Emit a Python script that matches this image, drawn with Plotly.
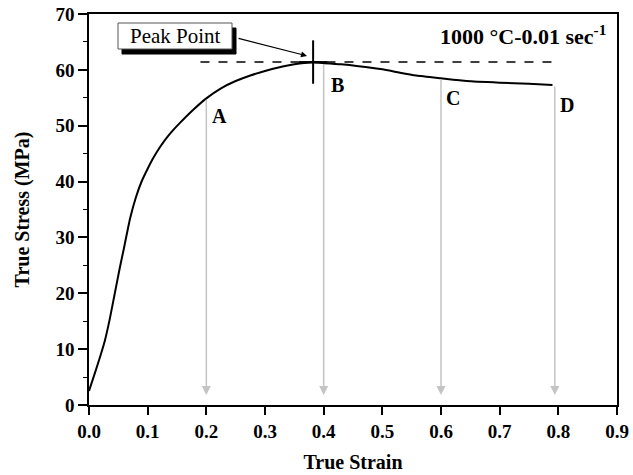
import plotly.graph_objects as go

# Flow curve
strain = [0.0, 0.01, 0.02, 0.027, 0.035, 0.044, 0.052, 0.060, 0.070, 0.080, 0.090,
          0.100, 0.110, 0.120, 0.130, 0.140, 0.155, 0.175, 0.200, 0.225, 0.250,
          0.275, 0.300, 0.330, 0.350, 0.380, 0.400, 0.430, 0.456, 0.500, 0.530,
          0.558, 0.600, 0.644, 0.700, 0.750, 0.790]
stress = [2.5, 5.7, 9.0, 11.5, 15.2, 20.0, 24.3, 28.3, 33.4, 37.2, 40.1,
          42.3, 44.3, 46.0, 47.5, 48.8, 50.5, 52.6, 54.9, 56.7, 58.0,
          59.0, 59.8, 60.6, 61.0, 61.3, 61.2, 61.0, 60.7, 60.1, 59.5,
          59.0, 58.5, 58.0, 57.7, 57.5, 57.3]

# Sample points A-D
pt_labels = ["A", "B", "C", "D"]
pt_strain = [0.20, 0.40, 0.60, 0.794]
pt_stress = [54.9, 61.2, 58.5, 57.3]
arrow_tip = 1.8
lbl_strain = [0.223, 0.424, 0.620, 0.814]
lbl_stress = [51.7, 57.3, 55.0, 53.7]

# Peak
peak_strain = [0.382]
peak_stress = [61.4]
dash_x = [0.19, 0.80]
dash_y = [61.4, 61.4]

# "Peak Point" call-out: box centre and arrow (data units)
box_x, box_y = 0.1466, 66.06
callout_from = (0.2523, 65.7)
callout_to = (0.3716, 62.5)

xticks = [0.0, 0.1, 0.2, 0.3, 0.4, 0.5, 0.6, 0.7, 0.8, 0.9]
yticks = [0, 10, 20, 30, 40, 50, 60, 70]

FONT = "Liberation Serif"

fig = go.Figure()

fig.add_trace(go.Scatter(x=dash_x, y=dash_y, mode="lines",
                         line=dict(color="black", width=1.6, dash="dash"),
                         showlegend=False, hoverinfo="skip"))
fig.add_trace(go.Scatter(x=strain, y=stress, mode="lines",
                         line=dict(color="black", width=2, shape="spline", smoothing=0.5),
                         showlegend=False))
fig.add_trace(go.Scatter(x=peak_strain, y=peak_stress, mode="markers",
                         marker=dict(symbol="line-ns", size=31, line=dict(color="black", width=2)),
                         showlegend=False))
fig.add_trace(go.Scatter(x=peak_strain, y=peak_stress, mode="markers",
                         marker=dict(symbol="line-ew", size=20, line=dict(color="black", width=2)),
                         showlegend=False))

ann = []
for xs, ys in zip(pt_strain, pt_stress):
    ann.append(dict(x=xs, y=arrow_tip, ax=xs, ay=ys, xref="x", yref="y",
                    axref="x", ayref="y", text="", showarrow=True,
                    arrowhead=2, arrowsize=1.2, arrowwidth=1.5, arrowcolor="#c4c4c4"))
for t, xs, ys in zip(pt_labels, lbl_strain, lbl_stress):
    ann.append(dict(x=xs, y=ys, xref="x", yref="y", text="<b>%s</b>" % t,
                    showarrow=False, font=dict(family=FONT, size=20, color="black")))

ann.append(dict(x=box_x, y=box_y, xref="x", yref="y", text="Peak Point",
                showarrow=False, font=dict(family=FONT, size=21, color="black")))
ann.append(dict(x=callout_to[0], y=callout_to[1], ax=callout_from[0], ay=callout_from[1],
                xref="x", yref="y", axref="x", ayref="y", text="", showarrow=True,
                arrowhead=2, arrowsize=1, arrowwidth=1.2, arrowcolor="black"))

ann.append(dict(x=0.983, y=0.946, xref="paper", yref="paper", xanchor="right",
                yanchor="middle", showarrow=False,
                text="<b>1000 °C-0.01 sec<sup>-1</sup></b>",
                font=dict(family=FONT, size=22, color="black")))

shapes = [
    dict(type="rect", xref="x", yref="y", xsizemode="pixel", ysizemode="pixel",
         xanchor=box_x, yanchor=box_y, x0=-53, x1=61, y0=-18, y1=8,
         fillcolor="black", line=dict(color="black", width=1), layer="above"),
    dict(type="rect", xref="x", yref="y", xsizemode="pixel", ysizemode="pixel",
         xanchor=box_x, yanchor=box_y, x0=-57, x1=57, y0=-13, y1=13,
         fillcolor="white", line=dict(color="#555", width=1), layer="above"),
]

fig.update_layout(
    width=633, height=475,
    margin=dict(l=89, r=16, t=14, b=70, autoexpand=False),
    plot_bgcolor="white", paper_bgcolor="white",
    annotations=ann, shapes=shapes,
    font=dict(family=FONT, color="black"),
)
fig.update_xaxes(range=[0, 0.9], tickvals=xticks, ticktext=["%.1f" % v for v in xticks],
                 ticks="outside", ticklen=8, tickwidth=1.5, tickcolor="black",
                 showline=True, linecolor="black", linewidth=1.5, mirror=True,
                 showgrid=False, zeroline=False, automargin=False,
                 tickfont=dict(family=FONT, size=19, color="black", weight="bold"),
                 title=dict(text="<b>True Strain</b>", font=dict(family=FONT, size=20), standoff=14))
fig.update_yaxes(range=[0, 70], tickvals=yticks,
                 ticks="outside", ticklen=9, tickwidth=1.5, tickcolor="black",
                 minor=dict(dtick=5, ticks="outside", ticklen=4, tickcolor="black", tickwidth=1),
                 showline=True, linecolor="black", linewidth=1.5, mirror=True,
                 showgrid=False, zeroline=False, automargin=False,
                 tickfont=dict(family=FONT, size=19, color="black", weight="bold"),
                 title=dict(text="<b>True Stress (MPa)</b>", font=dict(family=FONT, size=20), standoff=20))

fig.write_html("out.html", config={"displayModeBar": False},
               post_script="document.body.style.margin='0';document.body.style.overflow='hidden';")
